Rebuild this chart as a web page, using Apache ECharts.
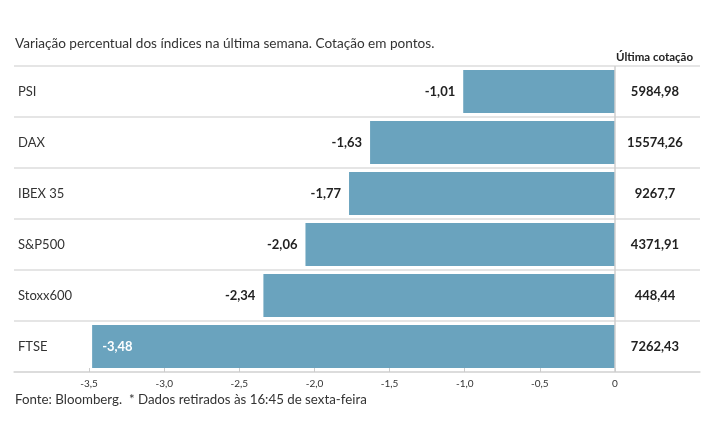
<!DOCTYPE html>
<html><head><meta charset="utf-8">
<script src="https://cdn.jsdelivr.net/npm/echarts@6/dist/echarts.min.js"></script>
<style>html,body{margin:0;padding:0;background:#fff}#c{width:715px;height:445px}</style>
</head><body><div id="c"></div>
<script>
const categories = ['PSI', 'DAX', 'IBEX 35', 'S&P500', 'Stoxx600', 'FTSE'];
const changes = [-1.01, -1.63, -1.77, -2.06, -2.34, -3.48];
const quotes = ['5984,98', '15574,26', '9267,7', '4371,91', '448,44', '7262,43'];
const tickValues = [-3.5, -3.0, -2.5, -2.0, -1.5, -1.0, -0.5, 0];
const titleText = 'Variação percentual dos índices na última semana. Cotação em pontos.';
const quoteHeader = 'Última cotação';
const sourceText = 'Fonte: Bloomberg.  * Dados retirados às 16:45 de sexta-feira';

const FONT = 'Lato';
const fmt = v => v === 0 ? '0' : v.toFixed(1).replace('.', ',');

const chart = echarts.init(document.getElementById('c'));
chart.setOption({
  animation: false,
  textStyle: { fontFamily: FONT },
  title: [
    { text: titleText, left: 15, top: 37, padding: 0, textStyle: { fontFamily: FONT, fontSize: 13.6, fontWeight: 'normal', color: '#333' } },
    { text: quoteHeader, left: 616, top: 51, padding: 0, textStyle: { fontFamily: FONT, fontSize: 11.5, fontWeight: 'bold', color: '#222' } },
    { text: sourceText, left: 15, top: 393, padding: 0, textStyle: { fontFamily: FONT, fontSize: 13.3, fontWeight: 'normal', color: '#333' } }
  ],
  grid: { left: 14, right: 15, top: 66, bottom: 73 },
  xAxis: {
    type: 'value', min: -4, max: 0.566,
    splitLine: { show: false },
    axisLine: { show: true, lineStyle: { color: '#d9d9d9', width: 1.5 } },
    axisTick: { show: true, inside: true, length: 4, customValues: tickValues, lineStyle: { color: '#cccccc' } },
    axisLabel: { customValues: tickValues, formatter: v => fmt(v), color: '#333', fontSize: 10, margin: 7, fontFamily: FONT }
  },
  yAxis: [
    {
      type: 'category', data: categories, inverse: true, position: 'left',
      axisLine: { show: false }, axisTick: { show: false },
      splitLine: { show: true, lineStyle: { color: '#dddddd', width: 1.5 } },
      axisLabel: { align: 'left', margin: -4, color: '#333', fontSize: 13, fontFamily: FONT }
    },
    {
      type: 'category', data: quotes, inverse: true, position: 'right',
      axisLine: { show: false }, axisTick: { show: false }, splitLine: { show: false },
      axisLabel: { align: 'center', margin: -45, color: '#222', fontSize: 13, fontWeight: 'bold', fontFamily: FONT }
    }
  ],
  series: [{
    type: 'bar', yAxisIndex: 0,
    data: changes.map((v, i) => i === changes.length - 1
      ? { value: v, label: { position: 'insideLeft', color: '#fff', distance: 10 } }
      : v),
    barWidth: 43,
    itemStyle: { color: '#6aa3be' },
    label: { show: true, position: 'left', distance: 8, formatter: p => p.value.toFixed(2).replace('.', ','),
             fontFamily: FONT, fontSize: 13, fontWeight: 'bold', color: '#222' },
    markLine: {
      silent: true, symbol: 'none', label: { show: false },
      lineStyle: { color: '#cfcfcf', type: 'solid', width: 1.5 },
      data: [{ xAxis: 0 }]
    }
  }]
});
</script></body></html>
